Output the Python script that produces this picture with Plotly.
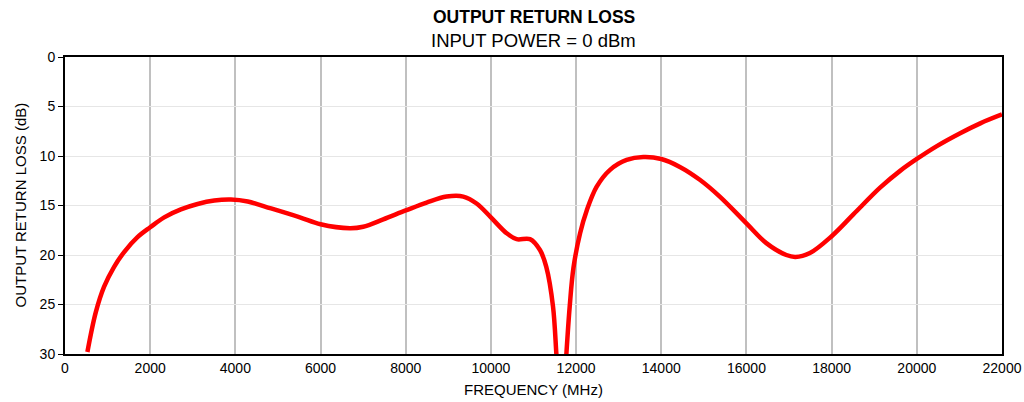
import plotly.graph_objects as go

# Segment 1 (left of the deep notch)
freq_a = [526, 722, 918, 1153, 1388, 1702, 2000, 2329, 2721, 3113, 3505, 3897, 4290,
          4838, 5515, 6000, 6689, 7002, 7472, 8000, 8490, 8960, 9351, 9664, 10000,
          10369, 10604, 10917, 11152, 11300, 11458, 11537, 11570]
rl_a = [29.8, 25.8, 23.2, 21.2, 19.7, 18.2, 17.2, 16.2, 15.4, 14.85, 14.5, 14.4, 14.6,
        15.3, 16.2, 16.9, 17.3, 17.15, 16.4, 15.5, 14.7, 14.1, 14.1, 14.8, 16.2,
        17.8, 18.4, 18.4, 19.5, 21.2, 25.2, 30.0, 32.0]
# Segment 2 (right of the notch)
freq_b = [11745, 11772, 11850, 11938, 12094, 12250, 12484, 12797, 13187, 13578, 14000,
          14437, 14905, 15374, 16000, 16467, 16936, 17150, 17490, 18000, 18510, 19137,
          19607, 20000, 20470, 21018, 21489, 22000]
rl_b = [32.0, 30.0, 25.2, 21.3, 17.8, 15.5, 13.1, 11.4, 10.4, 10.1, 10.3,
        11.1, 12.4, 14.1, 16.8, 18.8, 20.0, 20.2, 19.8, 18.1, 15.9, 13.2,
        11.5, 10.3, 9.0, 7.7, 6.7, 5.8]

x_ticks = list(range(0, 22001, 2000))
y_ticks = [0, 5, 10, 15, 20, 25, 30]

fig = go.Figure()
fig.add_trace(go.Scatter(x=freq_a + [None] + freq_b, y=rl_a + [None] + rl_b,
                         mode="lines",
                         line=dict(color="#ff0000", width=4.5, shape="spline", smoothing=1.0),
                         connectgaps=False, showlegend=False, hoverinfo="skip"))

font = "Liberation Sans, Arial, sans-serif"
fig.update_layout(
    width=1024, height=402,
    margin=dict(l=65, r=22, t=57, b=48, autoexpand=False),
    paper_bgcolor="white", plot_bgcolor="white",
    font=dict(family=font, size=14, color="black"),
    annotations=[
        dict(text="<b>OUTPUT RETURN LOSS</b>", xref="paper", yref="paper", x=0.5, y=1.135,
             xanchor="center", yanchor="middle", showarrow=False, font=dict(size=17.5)),
        dict(text="INPUT POWER = 0 dBm", xref="paper", yref="paper", x=0.5, y=1.057,
             xanchor="center", yanchor="middle", showarrow=False, font=dict(size=18.5)),
        dict(text="FREQUENCY (MHz)", xref="paper", yref="paper", x=0.5, y=-0.121,
             xanchor="center", yanchor="middle", showarrow=False, font=dict(size=15)),
        dict(text="OUTPUT RETURN LOSS (dB)", xref="paper", yref="paper", x=-0.048, y=0.5,
             xanchor="center", yanchor="middle", textangle=-90, showarrow=False,
             font=dict(size=15)),
    ],
)
fig.update_xaxes(range=[0, 22000], tickvals=x_ticks, ticktext=[str(v) for v in x_ticks],
                 showgrid=True, gridcolor="#c0c0c0", gridwidth=2,
                 showline=True, linecolor="black", linewidth=2, mirror=True,
                 ticks="", zeroline=False, automargin=False, tickfont=dict(size=14))
fig.update_yaxes(range=[30, 0], tickvals=y_ticks,
                 showgrid=True, gridcolor="#e6e6e6", gridwidth=1,
                 showline=True, linecolor="black", linewidth=2, mirror=True,
                 ticks="outside", ticklen=5, tickcolor="black", zeroline=False,
                 automargin=False, tickfont=dict(size=14))

fig.write_html("out.html", config={"displayModeBar": False},
               post_script="document.body.style.margin='0';document.body.style.overflow='hidden';")
